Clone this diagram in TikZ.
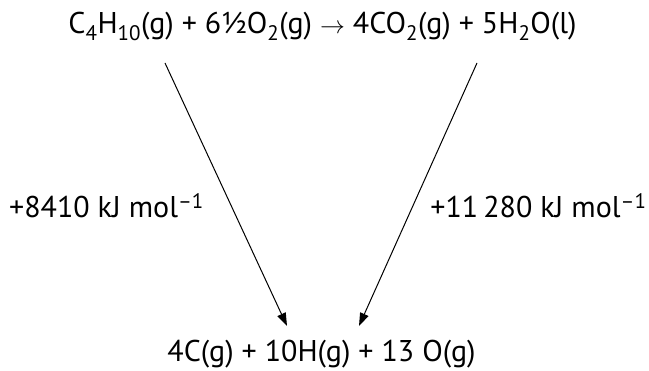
\documentclass[tikz,border=0pt]{standalone}
\usepackage{fontspec}
\setmainfont{PT Sans}
\usetikzlibrary{arrows.meta}
\newcommand{\chsub}[1]{\textsubscript{#1}}
\newcommand{\chsup}[1]{\textsuperscript{#1}}

\begin{document}
\begin{tikzpicture}[x=1pt, y=-1pt, every node/.style={inner sep=0pt, font=\fontsize{30}{36}\selectfont},
  pfeil/.style={line width=1pt, -{Triangle[length=13pt,width=9pt]}}]
\useasboundingbox (0,0) rectangle (649,371);
% Reaktion oben und Atome unten
\node[anchor=base] (reaktion) at (322.5,34) {C\chsub{4}H\chsub{10}(g) + 6½O\chsub{2}(g) $\rightarrow$ 4CO\chsub{2}(g) + 5H\chsub{2}O(l)};
\node[anchor=base] (atome) at (321.5,362) {4C(g) + 10H(g) + 13 O(g)};
% Enthalpien
\node[anchor=base] (dhlinks) at (106.5,218) {+8410 kJ mol\chsup{–1}};
\node[anchor=base] (dhrechts) at (538.5,218) {+11\,280 kJ mol\chsup{–1}};
% Pfeile
\coordinate (startl) at (165,63);
\coordinate (startr) at (477,63);
\coordinate (endel) at (287,326);
\coordinate (ender) at (359,326);
\draw[pfeil] (startl) -- (endel);
\draw[pfeil] (startr) -- (ender);
\end{tikzpicture}
\end{document}
